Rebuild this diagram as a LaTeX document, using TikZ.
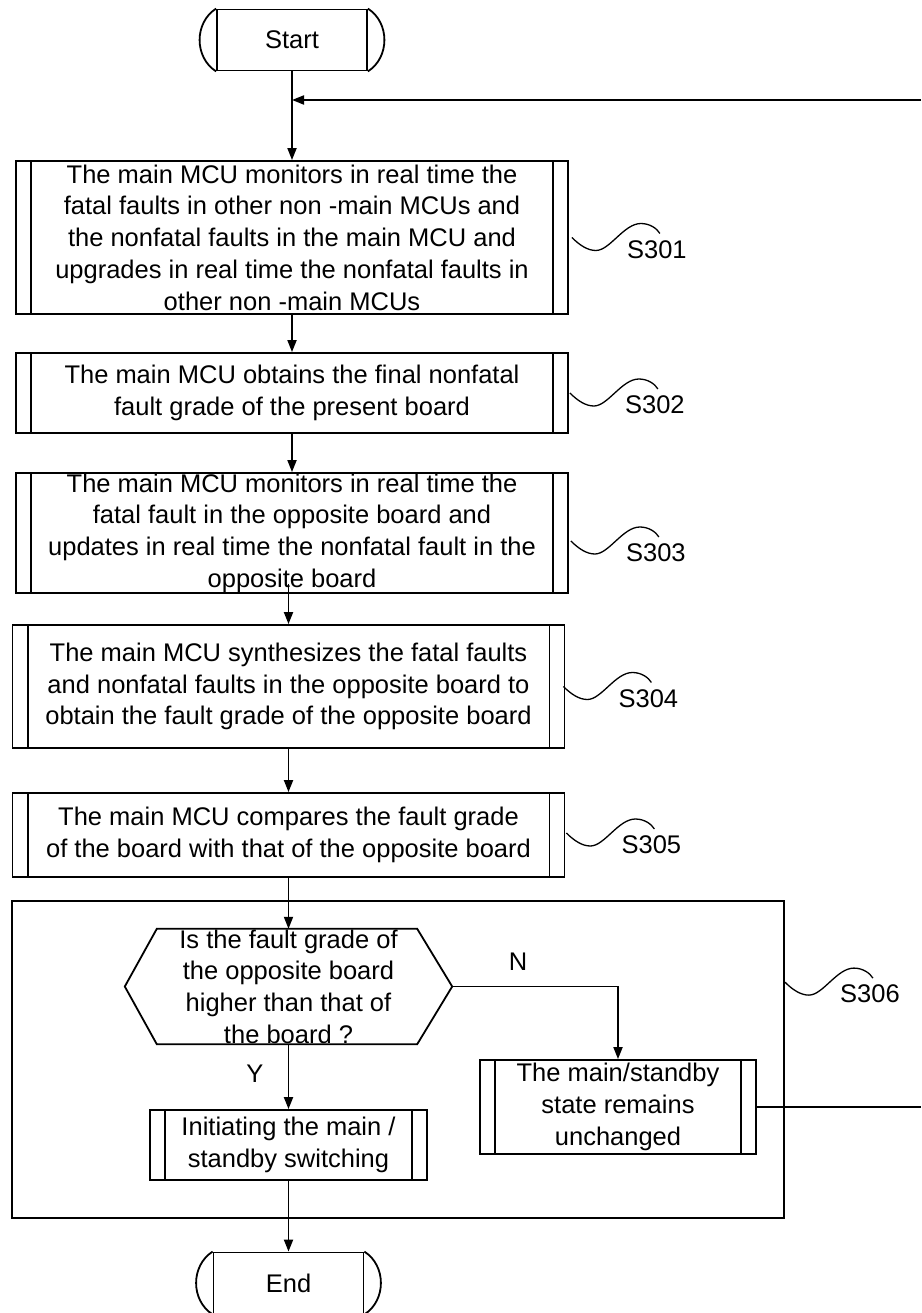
\documentclass[tikz,border=0pt]{standalone}
\usepackage{fontspec}
\setmainfont{Liberation Sans}
\usetikzlibrary{arrows.meta}
\begin{document}
\begin{tikzpicture}[x=1pt,y=-1pt,
  every node/.style={font=\fontsize{25.5}{31.7}\selectfont},
  ln/.style={line width=1.8pt},
  arr/.style={ln,-{Triangle[length=12pt,width=9pt]}},
  proc/.style={draw,ln,rectangle,align=center,inner sep=0pt},
  term/.style={draw,ln,rectangle,inner sep=0pt,minimum width=150pt,minimum height=61pt},
  lbl/.style={inner sep=0pt},
  pics/squig/.style={code={
    \draw[line width=1.3pt] (0,0) .. controls (8,8) and (16,13) .. (24,13)
      .. controls (38,13) and (52,-14) .. (69,-14)
      .. controls (78,-14) and (85,-9) .. (88,-4);
    \node[lbl] (-t) at (85,12) {#1};
  }}
]
\useasboundingbox (0,0) rectangle (921,1313);

% group box of S306
\node[draw,ln,rectangle,inner sep=0pt,minimum width=772pt,minimum height=317pt] (grp) at (398,1059.5) {};

% terminals
\node[term] (start) at (292,40) {Start};
\node[term] (end) at (288.5,1283) {End};
\foreach \t in {start,end}{
  \draw[ln] (\t.north west) .. controls +(-22,14) and +(-22,-14) .. (\t.south west);
  \draw[ln] (\t.north east) .. controls +(22,14) and +(22,-14) .. (\t.south east);
}

% process boxes
\node[proc,minimum width=552pt,minimum height=153pt] (s301) at (292,237.5)
  {The main MCU monitors in real time the\\ fatal faults in other non -main MCUs and\\ the nonfatal faults in the main MCU and\\ upgrades in real time the nonfatal faults in\\ other non -main MCUs};
\node[proc,minimum width=552pt,minimum height=80pt] (s302) at (292,393)
  {The main MCU obtains the final nonfatal\\ fault grade of the present board};
\node[proc,minimum width=552pt,minimum height=120pt] (s303) at (292,533)
  {The main MCU monitors in real time the\\ fatal fault in the opposite board and\\ updates in real time the nonfatal fault in the\\ opposite board};
\node[proc,minimum width=552pt,minimum height=123pt] (s304) at (288.5,686.5)
  {The main MCU synthesizes the fatal faults\\ and nonfatal faults in the opposite board to\\ obtain the fault grade of the opposite board};
\node[proc,minimum width=552pt,minimum height=84pt] (s305) at (288.5,835)
  {The main MCU compares the fault grade\\ of the board with that of the opposite board};
\node[proc,minimum width=277pt,minimum height=70pt] (init) at (288.5,1145)
  {Initiating the main /\\ standby switching};
\node[proc,minimum width=276pt,minimum height=94pt] (ms) at (618,1107)
  {The main/standby\\ state remains\\ unchanged};
\foreach \b in {s301,s302,s303,s304,s305,init,ms}{
  \draw[ln] ([xshift=16pt]\b.north west) -- ([xshift=16pt]\b.south west);
  \draw[ln] ([xshift=-16pt]\b.north east) -- ([xshift=-16pt]\b.south east);
}

% decision
\node[inner sep=0pt,minimum width=327pt,minimum height=115pt] (q) at (288.5,986.5) {};
\draw[ln] (q.west) -- ([xshift=32pt]q.north west) -- ([xshift=-35pt]q.north east) -- (q.east)
  -- ([xshift=-35pt]q.south east) -- ([xshift=32pt]q.south west) -- cycle;
\node[lbl,align=center] (qt) at (q.center) {Is the fault grade of\\ the opposite board\\ higher than that of\\ the board ?};

% step labels
\pic (p301) at ([xshift=3pt]s301.east) {squig=S301};
\pic (p302) at ([xshift=1pt]s302.east) {squig=S302};
\pic (p303) at ([xshift=2pt,yshift=-8pt]s303.east) {squig=S303};
\pic (p304) at ([xshift=-2pt]s304.east) {squig=S304};
\pic (p305) at ([xshift=1pt,yshift=2pt]s305.east) {squig=S305};
\pic (p306) at ([yshift=-82pt]grp.north east) {squig=S306};

% connectors
\coordinate (loopT) at (921,100);
\coordinate (loopB) at (921,1107);
\draw[arr] (start) -- (s301);
\draw[arr] (loopT) -- (loopT -| start.south);
\draw[arr] (s301) -- (s302);
\draw[arr] (s302) -- (s303);
\path (s303.south -| s304.north) ++(0,-10) coordinate (c34);
\draw[arr] (c34) -- (s304.north);
\draw[arr] (s304) -- (s305);
\draw[arr] (s305.south) -- (q.north);
\draw[arr] (q.south) -- (init.north);
\draw[arr] (q.east) -| (ms.north);
\draw[arr] (init) -- (end);
\draw[ln] (ms.east) -- (loopB);
\node[lbl] (ylab) at (255,1074) {Y};
\node[lbl] (nlab) at (518,962) {N};
\end{tikzpicture}
\end{document}
